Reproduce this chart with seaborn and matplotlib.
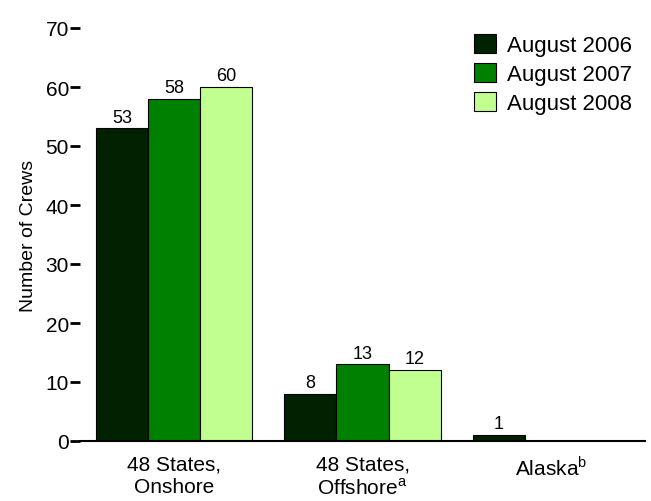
import matplotlib
matplotlib.use("Agg")
import matplotlib.pyplot as plt
import seaborn as sns
import pandas as pd

regions = ["48 States,\nOnshore", "48 States,\nOffshore$^{\\mathrm{a}}$", "Alaska$^{\\mathrm{b}}$"]
years = ["August 2006", "August 2007", "August 2008"]
crews_2006 = [53, 8, 1]
crews_2007 = [58, 13, 0]
crews_2008 = [60, 12, 0]
colors = ["#002200", "#008000", "#c0ff90"]

rows = []
for yr, vals in zip(years, [crews_2006, crews_2007, crews_2008]):
    for reg, v in zip(regions, vals):
        rows.append({"region": reg, "year": yr, "crews": v})
df = pd.DataFrame(rows)

sns.set_theme(style="white")
plt.rcParams["font.family"] = ["Liberation Sans", "DejaVu Sans"]
plt.rcParams["mathtext.fontset"] = "custom"
plt.rcParams["mathtext.rm"] = "Liberation Sans"
plt.rcParams["text.color"] = "black"
plt.rcParams["axes.labelcolor"] = "black"
plt.rcParams["xtick.color"] = "black"
plt.rcParams["ytick.color"] = "black"

fig = plt.figure(figsize=(6.51, 5.02), dpi=100)
ax = fig.add_axes([80 / 651, 1 - 442 / 502, 565 / 651, 413 / 502])

sns.barplot(data=df, x="region", y="crews", hue="year", order=regions, hue_order=years,
            palette=colors, width=0.83, gap=0, edgecolor="black", linewidth=0.8,
            saturation=1, ax=ax)

for cont in ax.containers:
    labels = [f"{int(b.get_height())}" if b.get_height() > 0 else "" for b in cont]
    ax.bar_label(cont, labels=labels, padding=2, fontsize=13, color="black")

ax.set_ylim(0, 70)
ax.set_xlim(-0.5, 2.5)
ax.set_yticks(range(0, 71, 10))
ax.set_xlabel("")
ax.set_ylabel("Number of Crews", fontsize=14, labelpad=6)
ax.tick_params(axis="y", left=True, length=7, width=2, pad=1, labelsize=15)
ax.tick_params(axis="x", bottom=False, length=0, pad=10, labelsize=15)
for s in ["top", "right", "left"]:
    ax.spines[s].set_visible(False)
ax.spines["bottom"].set_color("black")
ax.spines["bottom"].set_linewidth(1.5)

leg = ax.legend(loc="upper right", bbox_to_anchor=(1.0, 1.018), frameon=False, fontsize=16,
                handlelength=0.95, handleheight=0.95, handletextpad=0.5, labelspacing=0.3,
                borderaxespad=0.2)

fig.savefig("out.png", dpi=100)
